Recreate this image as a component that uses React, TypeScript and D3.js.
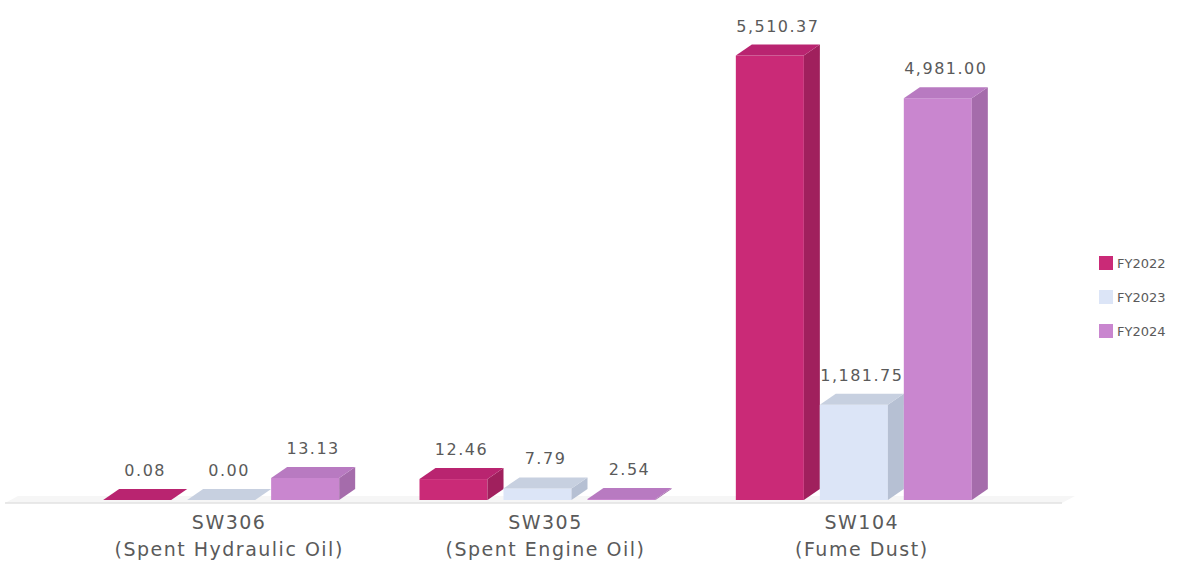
import React from "react";
import * as d3 from "d3";

const categories = ["SW306", "SW305", "SW104"];
const categoryNotes = ["(Spent Hydraulic Oil)", "(Spent Engine Oil)", "(Fume Dust)"];
const seriesNames = ["FY2022", "FY2023", "FY2024"];
const fy2022 = [0.08, 12.46, 5510.37];
const fy2023 = [0.0, 7.79, 1181.75];
const fy2024 = [13.13, 2.54, 4981.0];
const seriesValues = [fy2022, fy2023, fy2024];

const palette = [
  { front: "#CA2A77", side: "#A0205D", top: "#B92470" },
  { front: "#DCE5F7", side: "#B6C0D3", top: "#C7D0E0" },
  { front: "#C986CF", side: "#A56CAB", top: "#B87AC1" },
];

const W = 1199;
const H = 569;
const BASE = 500;
const DX = 16;
const DY = 11;
const FONT = "'DejaVu Sans', Verdana, sans-serif";

export default function App() {
  const x0 = d3.scaleBand<string>().domain(categories).range([71, 1020]).padding(0);
  const x1 = d3.scaleBand<string>().domain(seriesNames).range([-118, 118]).paddingInner(0.19).paddingOuter(0);
  // piecewise scale: small values get a visible boost, large values are linear
  const h = d3.scaleLinear().domain([0, 2.5, 13, 300, 6000]).range([0, 1, 22, 24, 484]).clamp(true);
  const fmt = d3.format(",.2f");
  const bw = x1.bandwidth();

  return (
    <svg width={W} height={H} style={{ position: "absolute", left: 0, top: 0, background: "#fff" }}
      fontFamily={FONT}>
      {/* floor */}
      <polygon points={`5,${BASE + 3} 1062,${BASE + 3} 1075,${BASE - 4} 18,${BASE - 4}`} fill="#f6f6f6" />
      <line x1={5} x2={1062} y1={BASE + 3} y2={BASE + 3} stroke="#e2e2e2" strokeWidth={1.5} />
      {categories.map((c, ci) => {
        const cx = (x0(c) as number) + x0.bandwidth() / 2;
        return (
          <g key={c}>
            {seriesNames.map((s, si) => {
              const v = seriesValues[si][ci];
              const hh = h(v);
              const xl = cx - DX / 2 + (x1(s) as number);
              const xr = xl + bw;
              const yt = BASE - hh;
              const col = palette[si];
              return (
                <g key={s}>
                  <rect x={xl} y={yt} width={bw} height={hh} fill={col.front} />
                  <polygon points={`${xr},${BASE} ${xr + DX},${BASE - DY} ${xr + DX},${yt - DY} ${xr},${yt}`} fill={col.side} />
                  <polygon points={`${xl},${yt} ${xl + DX},${yt - DY} ${xr + DX},${yt - DY} ${xr},${yt}`} fill={col.top} />
                  <text x={xl + bw / 2 + DX / 2} y={yt - DY - 13} textAnchor="middle" fontSize={16}
                    letterSpacing={1.5} fill="#5a5a5a">
                    {fmt(v)}
                  </text>
                </g>
              );
            })}
            <text x={cx} y={529} textAnchor="middle" fontSize={19} letterSpacing={1.5} fill="#5a5a5a">{c}</text>
            <text x={cx} y={556} textAnchor="middle" fontSize={19} letterSpacing={1.5} fill="#5a5a5a">{categoryNotes[ci]}</text>
          </g>
        );
      })}
      {seriesNames.map((s, si) => (
        <g key={s} transform={`translate(1099, ${263 + si * 34})`}>
          <rect x={0} y={-7} width={14} height={14} fill={palette[si].front} />
          <text x={18} y={5} fontSize={13} fill="#5a5a5a">{s}</text>
        </g>
      ))}
    </svg>
  );
}
